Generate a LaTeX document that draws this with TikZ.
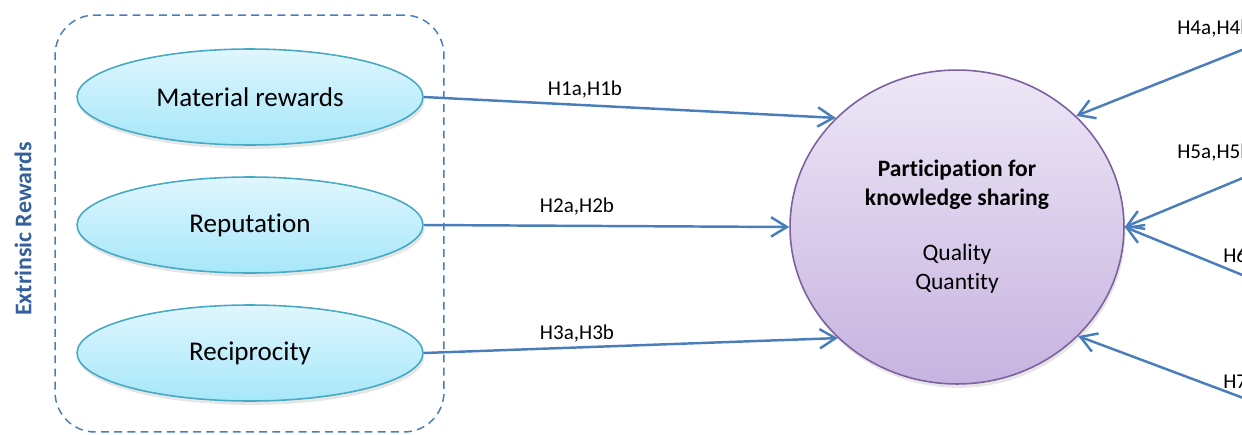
\documentclass[tikz,border=0pt]{standalone}
\usepackage{fontspec}
\setmainfont{Carlito}[Ligatures=NoCommon]
\usetikzlibrary{shapes, arrows.meta, shadows}

\definecolor{hypblue}{HTML}{4A7EBB}
\definecolor{titleblue}{HTML}{35609C}
\definecolor{rewtop}{HTML}{E0F6FD}
\definecolor{rewbot}{HTML}{A6E7FA}
\definecolor{rewline}{HTML}{47A9C4}
\definecolor{parttop}{HTML}{EDE7F6}
\definecolor{partbot}{HTML}{C7B3E0}
\definecolor{partline}{HTML}{7D60A0}

\begin{document}
\begin{tikzpicture}[x=0.02cm, y=-0.02cm,
  reward/.style={ellipse, draw=rewline, line width=0.9pt,
    top color=rewtop, bottom color=rewbot,
    minimum width=6.92cm, minimum height=1.92cm, inner sep=0pt,
    font=\fontsize{15.4}{18}\selectfont,
    drop shadow={opacity=0.2, shadow xshift=0.8pt, shadow yshift=-2.2pt}},
  outcome/.style={ellipse, draw=partline, line width=0.9pt,
    top color=parttop, bottom color=partbot,
    minimum width=6.68cm, minimum height=6.28cm, inner sep=0pt,
    align=center, font=\fontsize{13.4}{16.4}\selectfont,
    drop shadow={opacity=0.2, shadow xshift=0.8pt, shadow yshift=-2.2pt}},
  group/.style={draw=hypblue, line width=0.85pt, dash pattern=on 4.5pt off 3pt,
    rounded corners=0.8cm, minimum width=7.78cm, minimum height=8.34cm},
  hyp/.style={draw=hypblue, line width=1.4pt,
    -{Straight Barb[length=9pt, width=11pt]}},
  hlabel/.style={font=\fontsize{12}{14}\selectfont, inner sep=0pt}]
  \useasboundingbox (0,0) rectangle (1242,434);
  \clip (0,0) rectangle (1242,434);

  % extrinsic rewards group
  \node (grp) [group] at (249.5,223.5) {};
  \node (ext) [rotate=90, text=titleblue, font=\fontsize{13.6}{16}\bfseries\selectfont]
    at (23,229) {Extrinsic Rewards};

  \node (mat) [reward] at (250,97) {Material rewards};
  \node (rep) [reward] at (250,225) {Reputation};
  \node (rec) [reward] at (250,353) {Reciprocity};

  % outcome
  \node (part) [outcome] at (957,227)
    {\textbf{Participation for}\\\textbf{knowledge sharing}\\[15pt]Quality\\Quantity};

  % sources off the right edge
  \coordinate (h4src) at (1262,42);
  \coordinate (h5src) at (1262,170);
  \coordinate (h6src) at (1262,283);
  \coordinate (h7src) at (1262,405);

  \draw[hyp] (mat.east) -- (part.138);
  \draw[hyp] (rep.east) -- (part.west);
  \draw[hyp] (rec.east) -- (part.223);
  \draw[hyp] (h4src) -- (part.43);
  \draw[hyp] (h5src) -- (part.east);
  \draw[hyp] (h6src) -- (part.east);
  \draw[hyp] (h7src) -- (part.-42);

  \node (lab1) [hlabel] at (585,90) {H1a,H1b};
  \node (lab2) [hlabel] at (577,207) {H2a,H2b};
  \node (lab3) [hlabel] at (577,334) {H3a,H3b};
  \node (lab4) [hlabel, anchor=west] at (1177,29) {H4a,H4b};
  \node (lab5) [hlabel, anchor=west] at (1177,153) {H5a,H5b};
  \node (lab6) [hlabel, anchor=west] at (1223,257) {H6a,H6b};
  \node (lab7) [hlabel, anchor=west] at (1223,383) {H7a,H7b};
\end{tikzpicture}
\end{document}
